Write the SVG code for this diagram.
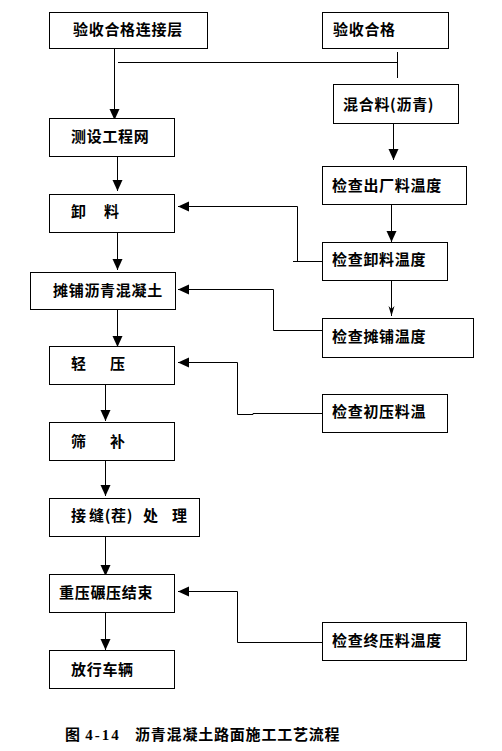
<svg xmlns="http://www.w3.org/2000/svg" width="502" height="751" viewBox="0 0 502 751">
<style>
  rect.box { fill: #fff; stroke: #000; stroke-width: 1; }
  text { font-family: "Noto Sans CJK SC", "Noto Sans", sans-serif; font-size: 15px; font-weight: bold; fill: #000; letter-spacing: 0.7px; dominant-baseline: central; }
  text.cap { font-family: "Liberation Serif", "Noto Sans CJK SC", serif; letter-spacing: 0.8px; }
  .conn path { fill: none; stroke: #000; stroke-width: 1; }
</style>
<defs>
  <marker id="arr" markerUnits="userSpaceOnUse" markerWidth="11" markerHeight="11" refX="11" refY="5.5" orient="auto">
    <path d="M0,0.5 L11,5.5 L0,10.5 z" fill="#000"/>
  </marker>
  <marker id="arrn" markerUnits="userSpaceOnUse" markerWidth="10" markerHeight="8" refX="10" refY="4" orient="auto">
    <path d="M0,1 L10,4 L0,7 L3,4 z" fill="#000"/>
  </marker>
</defs>
<rect width="502" height="751" fill="#fff"/>

<g class="conn">
  <path d="M114.5 41 V120" marker-end="url(#arr)"/>
  <path d="M118 62.5 H398"/>
  <path d="M397.5 52 V78"/>
  <path d="M393.5 123 V160" marker-end="url(#arr)"/>
  <path d="M391.5 204 V242" marker-end="url(#arr)"/>
  <path d="M117.5 156 V191" marker-end="url(#arr)"/>
  <path d="M293 261.5 H322"/>
  <path d="M297.5 261.5 V206.5 H178" marker-end="url(#arr)"/>
  <path d="M117.5 232 V270" marker-end="url(#arr)"/>
  <path d="M322 330.5 H273.5 V289.5 H178" marker-end="url(#arr)"/>
  <path d="M391.5 280 V316" marker-end="url(#arrn)"/>
  <path d="M117.5 309 V347" marker-end="url(#arr)"/>
  <path d="M322 413.5 H253 V414.5 H237.5 V362.5 H178" marker-end="url(#arr)"/>
  <path d="M105.5 384 V421" marker-end="url(#arr)"/>
  <path d="M105.5 461 V496" marker-end="url(#arr)"/>
  <path d="M105.5 537 V576" marker-end="url(#arr)"/>
  <path d="M322 642.5 H237.5 V591.5 H178" marker-end="url(#arr)"/>
  <path d="M105.5 612 V650" marker-end="url(#arr)"/>
</g>

<g id="n1"><rect class="box" x="49.5" y="12.5" width="158" height="36"/><text x="73" y="28">验收合格连接层</text></g>
<g id="n2"><rect class="box" x="322.5" y="12.5" width="126" height="36"/><text x="333" y="28">验收合格</text></g>
<g id="n3"><rect class="box" x="333.5" y="84.5" width="125" height="39"/><text x="343" y="103">混合料(沥青)</text></g>
<g id="n4"><rect class="box" x="49.5" y="118.5" width="125" height="38"/><text x="71" y="135">测设工程网</text></g>
<g id="n5"><rect class="box" x="322.5" y="166.5" width="144" height="38"/><text x="332" y="184">检查出厂料温度</text></g>
<g id="n6"><rect class="box" x="49.5" y="194.5" width="125" height="38"/><text x="71" y="210">卸 <tspan x="104">料</tspan></text></g>
<g id="n7"><rect class="box" x="322.5" y="242.5" width="125" height="38"/><text x="332" y="258">检查卸料温度</text></g>
<g id="n8"><rect class="box" x="30.5" y="272.5" width="145" height="37"/><text x="53" y="289">摊铺沥青混凝土</text></g>
<g id="n9"><rect class="box" x="322.5" y="318.5" width="151" height="39"/><text x="332" y="335">检查摊铺温度</text></g>
<g id="n10"><rect class="box" x="49.5" y="346.5" width="125" height="38"/><text x="71" y="362">轻 <tspan x="110">压</tspan></text></g>
<g id="n11"><rect class="box" x="322.5" y="394.5" width="125" height="38"/><text x="332" y="410">检查初压料温</text></g>
<g id="n12"><rect class="box" x="49.5" y="422.5" width="125" height="38"/><text x="71" y="440">筛 <tspan x="110">补</tspan></text></g>
<g id="n13"><rect class="box" x="49.5" y="498.5" width="150" height="38"/><text x="71" y="514">接 <tspan x="89">缝(茬) </tspan><tspan x="143">处 </tspan><tspan x="172">理</tspan></text></g>
<g id="n14"><rect class="box" x="49.5" y="574.5" width="125" height="38"/><text x="59" y="591">重压碾压结束</text></g>
<g id="n15"><rect class="box" x="322.5" y="622.5" width="144" height="38"/><text x="332" y="639">检查终压料温度</text></g>
<g id="n16"><rect class="box" x="49.5" y="650.5" width="125" height="38"/><text x="71" y="668">放行车辆</text></g>

<text class="cap" x="65" y="735">图 <tspan style="letter-spacing:2px">4-14</tspan><tspan x="135">沥青混凝土路面施工工艺流程</tspan></text>
</svg>
